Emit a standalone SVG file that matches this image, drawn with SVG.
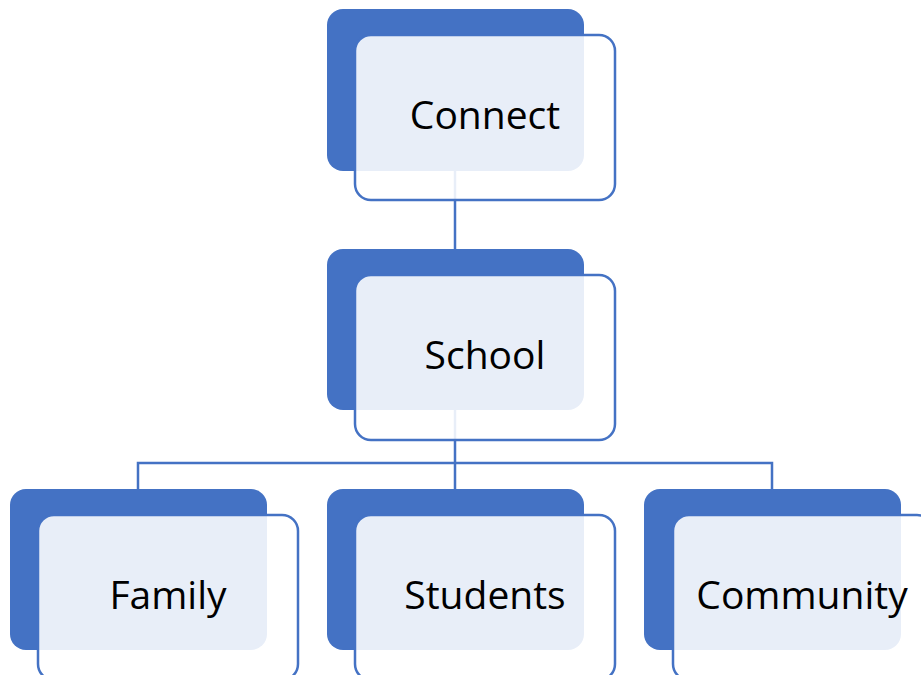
<svg xmlns="http://www.w3.org/2000/svg" width="921" height="675" viewBox="0 0 921 675">
<style>
.back{fill:#4472C4}
.front{fill:#ffffff;fill-opacity:0.88;stroke:#4472C4;stroke-width:2.5}
.lbl{font-family:"Open Sans","Liberation Sans",sans-serif;font-size:39px;fill:#000;text-anchor:middle}
.conn{fill:none;stroke:#4472C4;stroke-width:2.5}
</style>
<rect width="921" height="675" fill="#ffffff"/>
<g id="connectors">
<line class="conn" x1="455" y1="171" x2="455" y2="249"/>
<path class="conn" d="M455 410 V463 M138 489 V463 H772 V489 M455 463 V489"/>
</g>
<g id="node-connect">
<rect class="back" x="327" y="9" width="257" height="162" rx="16"/>
<rect class="front" x="355" y="35" width="260" height="165" rx="16"/>
<text class="lbl" x="485" y="129">Connect</text>
</g>
<g id="node-school">
<rect class="back" x="327" y="249" width="257" height="161" rx="16"/>
<rect class="front" x="355" y="275" width="260" height="165" rx="16"/>
<text class="lbl" x="485" y="369">School</text>
</g>
<g id="node-family">
<rect class="back" x="10" y="489" width="257" height="161" rx="16"/>
<rect class="front" x="38" y="515" width="260" height="165" rx="16"/>
<text class="lbl" x="168" y="609">Family</text>
</g>
<g id="node-students">
<rect class="back" x="327" y="489" width="257" height="161" rx="16"/>
<rect class="front" x="355" y="515" width="260" height="165" rx="16"/>
<text class="lbl" x="485" y="609">Students</text>
</g>
<g id="node-community">
<rect class="back" x="644" y="489" width="257" height="161" rx="16"/>
<rect class="front" x="673" y="515" width="260" height="165" rx="16"/>
<text class="lbl" x="802" y="609">Community</text>
</g>
</svg>
